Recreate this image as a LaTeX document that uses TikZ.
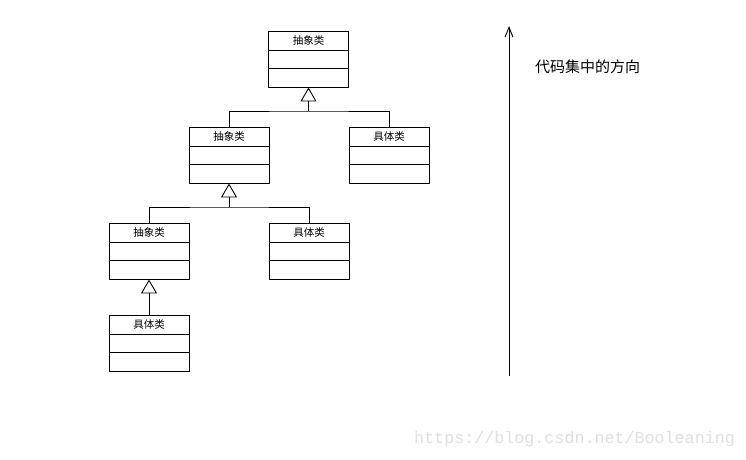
\documentclass[tikz,border=0pt]{standalone}
\usepackage{fontspec}
\newfontfamily\cjk{Noto Sans CJK SC}
\newfontfamily\wmfont{Liberation Mono}
\usetikzlibrary{arrows.meta}
\tikzset{
  cls/.style={draw, line width=0.9pt, minimum width=80pt, minimum height=56pt, inner sep=0pt, fill=white},
  lbl/.style={font=\cjk\fontsize{10.5}{12}\selectfont, inner sep=0pt},
  inherit/.style={line width=0.9pt, -{Triangle[open, length=14pt, width=16pt, line width=0.9pt]}},
  conn/.style={line width=0.9pt},
  bigarrow/.style={line width=0.9pt, -{Straight Barb[length=10pt, width=8pt, line width=0.9pt]}}
}
\newcommand{\umlbox}[4]{%
  \node[cls] (#1) at (#2,#3) {};
  \draw[line width=0.9pt] ([yshift=-20pt]#1.north west) -- ([yshift=-20pt]#1.north east);
  \draw[line width=0.9pt] ([yshift=-38pt]#1.north west) -- ([yshift=-38pt]#1.north east);
  \node[lbl] (#1t) at ([yshift=-10pt]#1.north) {#4};
}
\begin{document}
\begin{tikzpicture}[x=1pt,y=-1pt]
\useasboundingbox[fill=white] (0,0) rectangle (746,459);
\umlbox{A}{308.5}{59}{抽象类}
\umlbox{B}{229}{155}{抽象类}
\umlbox{C}{389}{155}{具体类}
\umlbox{D}{149}{251}{抽象类}
\umlbox{E}{309}{251}{具体类}
\umlbox{F}{149}{343}{具体类}
\coordinate (j1) at (308.5,111);
\coordinate (j2) at (229,207);
\draw[conn] (B.north) |- (j1) -| (C.north);
\draw[inherit] (j1) -- (A.south);
\draw[conn] (D.north) |- (j2) -| (E.north);
\draw[inherit] (j2) -- (B.south);
\draw[inherit] (F.north) -- (D.south);
\coordinate (s) at (509,376);
\coordinate (e) at (509,26);
\draw[bigarrow] (s) -- (e);
\node[font=\cjk\fontsize{15}{17}\selectfont, anchor=west, inner sep=0pt] (dir) at (535,67) {代码集中的方向};
\node[font=\wmfont\fontsize{16.7}{18}\selectfont, text=black!12, anchor=west, inner sep=0pt] (wm) at (414,439) {https://blog.csdn.net/Booleaning};
\end{tikzpicture}
\end{document}
